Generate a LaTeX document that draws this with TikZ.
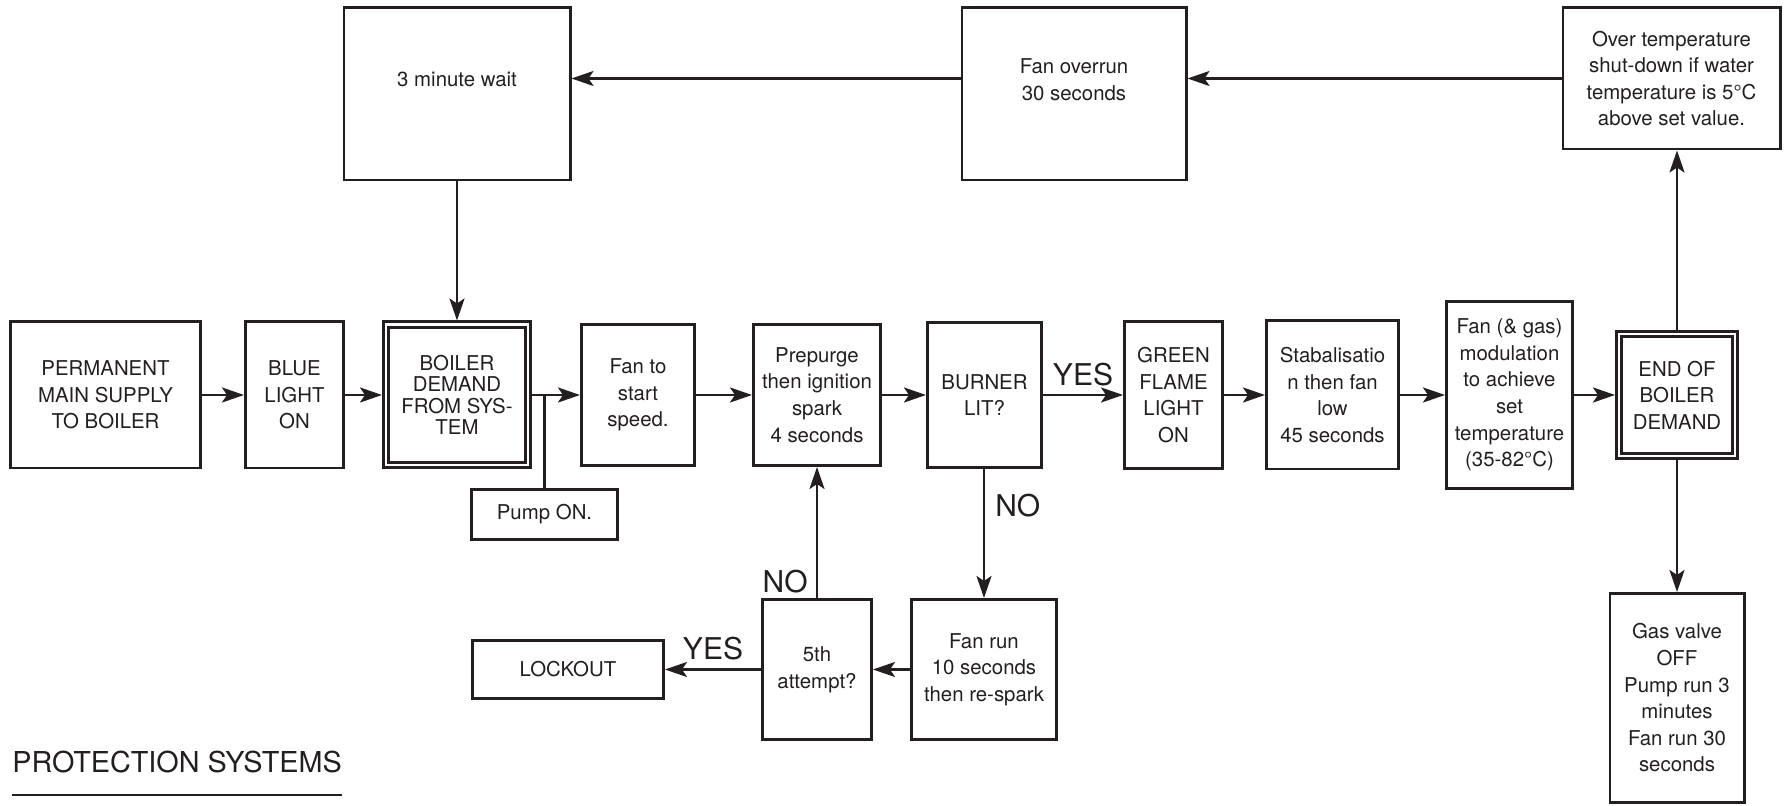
\documentclass[tikz,border=0pt]{standalone}
\usepackage{fontspec}
\setmainfont{TeX Gyre Heros}
\usepackage{xcolor}
\usepackage{tikz}
\usetikzlibrary{positioning, arrows.meta}
\definecolor{ink}{HTML}{231F20}

\begin{document}
\begin{tikzpicture}[
    stage/.style={rectangle, draw=ink, text=ink, line width=1.4pt, inner sep=2pt, align=center, font=\fontsize{10.2}{13.3}\selectfont},
    endstage/.style={stage, line width=1.5pt, double, double distance=1.2pt, outer sep=2.1pt},
    boxtext/.style={text=ink, align=center, font=\fontsize{10.2}{13.3}\selectfont, yshift=7.25pt},
    link/.style={draw=ink, line width=1.3pt},
    flow/.style={link, -{Stealth[length=11pt, width=7.5pt, inset=2.5pt]}},
    answer/.style={text=ink, inner sep=1pt, font=\fontsize{15}{18}\selectfont}
]
\useasboundingbox (0,0) rectangle (892.5pt,-403pt);

\node[stage, minimum width=95.1pt, minimum height=73.1pt] (supply) at (52.75pt,-197.5pt) {PERMANENT\\MAIN SUPPLY\\TO BOILER};
\node[stage, minimum width=49.1pt, minimum height=73.1pt, right=21pt of supply] (blue) {BLUE\\LIGHT\\ON};
\node[endstage, minimum width=70.8pt, minimum height=70.3pt, right=18.5pt of blue, font=\fontsize{10.2}{10.7}\selectfont] (demand) {BOILER\\DEMAND\\FROM SYS-\\TEM};
\node[stage, minimum width=56.6pt, minimum height=70.6pt, right=24pt of demand] (fanstart) {Fan to\\start\\speed.};
\node[stage, minimum width=63.6pt, minimum height=70.6pt, right=28pt of fanstart] (prepurge) {Prepurge\\then ignition\\spark\\4 seconds};
\node[stage, minimum width=57.1pt, minimum height=72.6pt, right=22pt of prepurge] (burner) {BURNER\\LIT?};
\node[stage, minimum width=49.1pt, minimum height=73.6pt, right=40pt of burner] (green) {GREEN\\FLAME\\LIGHT\\ON};
\node[stage, minimum width=66.1pt, minimum height=74.1pt, right=20.5pt of green] (stabilise) {Stabalisatio\\n then fan\\low\\45 seconds};
\node[stage, minimum width=63.1pt, minimum height=93.6pt, right=22.5pt of stabilise] (modulate) {Fan (\& gas)\\modulation\\to achieve\\set\\temperature\\(35-82°C)};
\node[endstage, minimum width=57.8pt, minimum height=60.8pt, right=20.5pt of modulate] (enddemand) {END OF\\BOILER\\DEMAND};

\node[stage, minimum width=113.1pt, minimum height=86.1pt, above=69.5pt of demand, label={[boxtext]center:3 minute wait}] (wait) {};
\node[stage, minimum width=112.1pt, minimum height=86.1pt, right=194.5pt of wait, label={[boxtext]center:Fan overrun\\30 seconds}] (overrun) {};
\node[stage, minimum width=108.6pt, minimum height=70.6pt, right=187pt of overrun.north east, anchor=north west] (overheat) {Over temperature\\shut-down if water\\temperature is 5°C\\above set value.};

\node[stage, minimum width=73.1pt, minimum height=25.1pt] (pump) at (272.25pt,-257.25pt) {Pump ON.};
\node[stage, minimum width=54.6pt, minimum height=70.1pt, below=65.5pt of prepurge] (attempt) {5th\\attempt?};
\node[stage, minimum width=72.6pt, minimum height=70.1pt, right=18.5pt of attempt] (rerun) {Fan run\\10 seconds\\then re-spark};
\node[stage, minimum width=95.6pt, minimum height=29.1pt, left=48pt of attempt] (lockout) {LOCKOUT};
\node[stage, minimum width=67.1pt, minimum height=104.6pt, below=66pt of enddemand] (shutoff) {Gas valve\\OFF\\Pump run 3\\minutes\\Fan run 30\\seconds};

\node[text=ink, inner sep=0pt, anchor=base west, font=\fontsize{14.4}{17}\selectfont] (protect) at (6pt,-386.5pt) {PROTECTION SYSTEMS};
\draw[ink, line width=1pt] ([yshift=-10.5pt]protect.south west) -- ([yshift=-10.5pt]protect.south east);

\draw[flow] (supply) -- (blue);
\draw[flow] (blue) -- (demand);
\draw[flow] (demand) -- (fanstart);
\draw[link] (pump) -- (pump |- demand);
\draw[flow] (fanstart) -- (prepurge);
\draw[flow] (prepurge) -- (burner);
\draw[flow] (burner) -- node[answer, above=3pt] {YES} (green);
\draw[flow] (green) -- (stabilise);
\draw[flow] (stabilise) -- (modulate);
\draw[flow] (modulate) -- (enddemand);
\draw[flow] (enddemand) -- (enddemand |- overheat.south);
\draw[flow] (enddemand) -- (shutoff);
\draw[flow] (overheat) -- (overheat -| overrun.east);
\draw[flow] (overrun.west |- overheat) -- (wait.east |- overheat);
\draw[flow] (wait) -- (demand);
\draw[flow] (burner.south -| rerun) -- node[answer, pos=0.285, right=4pt] {NO} (rerun);
\draw[flow] (rerun) -- (attempt);
\draw[flow] (attempt) -- node[answer, above=3pt] {YES} (lockout);
\draw[flow] (attempt) -- node[answer, pos=0, above left=1pt and 3pt] {NO} (prepurge);
\end{tikzpicture}
\end{document}
